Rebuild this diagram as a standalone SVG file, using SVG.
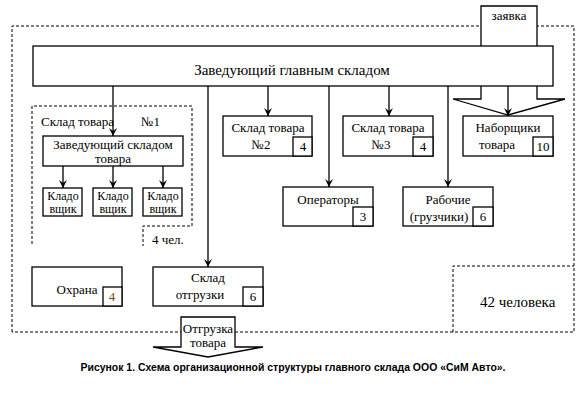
<svg xmlns="http://www.w3.org/2000/svg" width="586" height="400" viewBox="0 0 586 400">
<style>
.b{fill:#fff;stroke:#000;stroke-width:1.3}
.d{fill:none;stroke:#000;stroke-width:1;stroke-dasharray:3,2}
.l{fill:none;stroke:#000;stroke-width:1.3}
.t{font-family:"Liberation Serif",serif;font-size:13px;fill:#000}
.s{font-size:12px}
.m{text-anchor:middle}
.cap{font-family:"Liberation Sans",sans-serif;font-size:10px;font-weight:bold;fill:#000}
</style>
<defs>
<marker id="ar" markerUnits="userSpaceOnUse" markerWidth="9" markerHeight="9" refX="8" refY="4" orient="auto">
<path d="M0,0 L8,4 L0,8 L3,4 z" fill="#000"/>
</marker>
</defs>
<rect width="586" height="400" fill="#fff"/>
<g id="frame">
<path class="d" d="M12,332 V26 H574 V332 Z"/>
<path class="d" d="M453,332 V266 H574"/>
<text class="t" x="480" y="307" style="font-size:15px">42 человека</text>
</g>
<g id="zayavka">
<path class="b" d="M481,46 V6 H537 V46"/>
<text class="t m" x="509" y="20">заявка</text>
</g>
<g id="connectors">
<path class="l" d="M113,86 V136" marker-end="url(#ar)"/>
<path class="l" d="M208,86 V267" marker-end="url(#ar)"/>
<path class="l" d="M268,86 V116" marker-end="url(#ar)"/>
<path class="l" d="M329,86 V187" marker-end="url(#ar)"/>
<path class="l" d="M389,86 V116" marker-end="url(#ar)"/>
<path class="l" d="M448,86 V187" marker-end="url(#ar)"/>
<path class="l" d="M508,86 V116" marker-end="url(#ar)"/>
<path class="l" d="M481,86 V99 H453 L508,115 L565,99 H537 V86"/>
<path class="l" d="M63,166 V188" marker-end="url(#ar)"/>
<path class="l" d="M113,166 V188" marker-end="url(#ar)"/>
<path class="l" d="M163,166 V188" marker-end="url(#ar)"/>
</g>
<g id="main">
<rect class="b" x="33" y="46" width="520" height="40"/>
<text class="t m" x="292" y="75" style="font-size:15px">Заведующий главным складом</text>
</g>
<g id="sklad1">
<path class="d" d="M32,244 V106 H192 V226 H143 V246"/>
<text class="t" x="41" y="126">Склад товара</text>
<text class="t" x="141" y="126">№1</text>
<text class="t" x="152" y="244">4 чел.</text>
</g>
<g id="zav1">
<rect class="b" x="43" y="136" width="140" height="30"/>
<text class="t m" x="113" y="149">Заведующий складом</text>
<text class="t m" x="113" y="163">товара</text>
</g>
<g id="k1">
<rect class="b" x="43" y="188" width="39" height="28"/>
<text class="t s m" x="63" y="200">Кладо</text>
<text class="t s m" x="63" y="213">вщик</text>
</g>
<g id="k2">
<rect class="b" x="93" y="188" width="39" height="28"/>
<text class="t s m" x="113" y="200">Кладо</text>
<text class="t s m" x="113" y="213">вщик</text>
</g>
<g id="k3">
<rect class="b" x="143" y="188" width="39" height="28"/>
<text class="t s m" x="163" y="200">Кладо</text>
<text class="t s m" x="163" y="213">вщик</text>
</g>
<g id="sklad2">
<rect class="b" x="223" y="116" width="89" height="40"/>
<rect class="b" x="293" y="137" width="19" height="19"/>
<text class="t m" x="268" y="132">Склад товара</text>
<text class="t m" x="261" y="149">№2</text>
<text class="t m" x="303" y="151">4</text>
</g>
<g id="sklad3">
<rect class="b" x="343" y="116" width="90" height="40"/>
<rect class="b" x="413" y="137" width="20" height="19"/>
<text class="t m" x="388" y="132">Склад товара</text>
<text class="t m" x="381" y="149">№3</text>
<text class="t m" x="423" y="151">4</text>
</g>
<g id="nabor">
<rect class="b" x="463" y="116" width="90" height="40"/>
<rect class="b" x="533" y="137" width="20" height="19"/>
<text class="t m" x="508" y="132">Наборщики</text>
<text class="t m" x="497" y="149">товара</text>
<text class="t m" x="543" y="151">10</text>
</g>
<g id="oper">
<rect class="b" x="283" y="187" width="90" height="39"/>
<rect class="b" x="353" y="207" width="20" height="19"/>
<text class="t m" x="328" y="204">Операторы</text>
<text class="t m" x="363" y="221">3</text>
</g>
<g id="rab">
<rect class="b" x="403" y="187" width="90" height="39"/>
<rect class="b" x="473" y="207" width="20" height="19"/>
<text class="t m" x="448" y="204">Рабочие</text>
<text class="t m" x="439" y="221">(грузчики)</text>
<text class="t m" x="483" y="221">6</text>
</g>
<g id="ohrana">
<rect class="b" x="32" y="267" width="90" height="39"/>
<rect class="b" x="103" y="287" width="19" height="19"/>
<text class="t m" x="77" y="294">Охрана</text>
<text class="t m" x="112" y="301" style="fill:#7a4a00">4</text>
</g>
<g id="otgr">
<rect class="b" x="153" y="267" width="110" height="39"/>
<rect class="b" x="243" y="287" width="20" height="19"/>
<text class="t m" x="208" y="282">Склад</text>
<text class="t m" x="200" y="299">отгрузки</text>
<text class="t m" x="253" y="301">6</text>
</g>
<g id="otgruzka">
<path class="b" d="M181,347 V317 H235 V347 H263 L208,357 L153,347 Z"/>
<text class="t m" x="208" y="333">Отгрузка</text>
<text class="t m" x="208" y="347">товара</text>
</g>
<text class="cap" x="293" y="371" text-anchor="middle" textLength="425" lengthAdjust="spacingAndGlyphs">Рисунок 1. Схема организационной структуры главного склада ООО «СиМ Авто».</text>
</svg>
